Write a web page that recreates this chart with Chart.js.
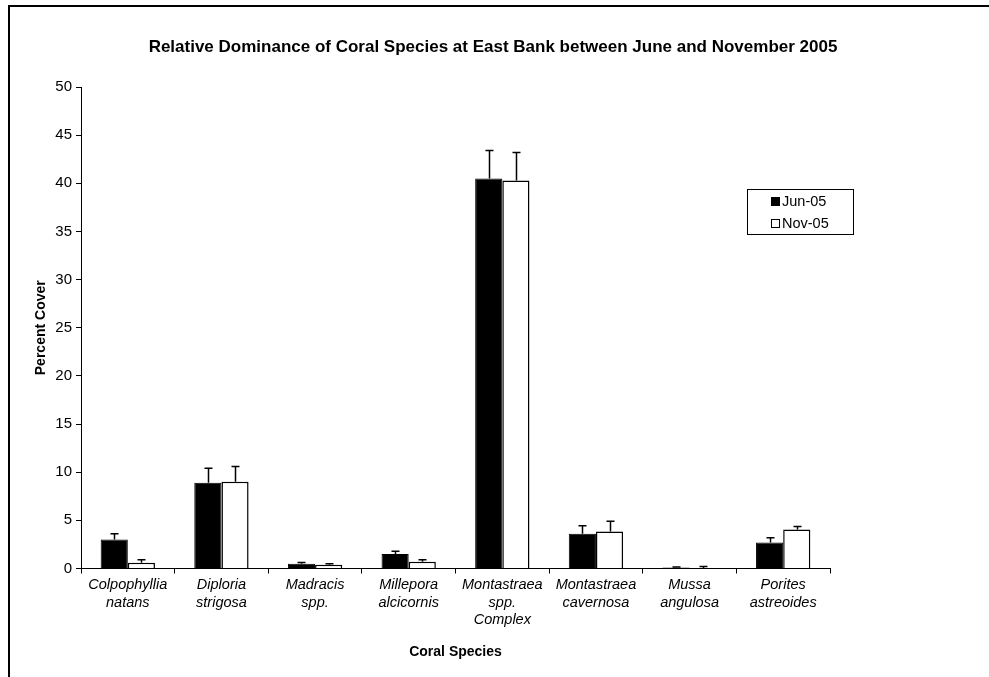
<!DOCTYPE html>
<html>
<head>
<meta charset="utf-8">
<script src="https://cdn.jsdelivr.net/npm/chart.js@4"></script>
<style>
  html, body { margin: 0; padding: 0; background: #fff; }
  #wrap { position: relative; width: 989px; height: 677px; }
</style>
</head>
<body>
<div id="wrap"><canvas id="c" width="989" height="677"></canvas></div>
<script>
// Species groups on the x axis (one line per array entry)
const species = [
  ['Colpophyllia', 'natans'],
  ['Diploria', 'strigosa'],
  ['Madracis', 'spp.'],
  ['Millepora', 'alcicornis'],
  ['Montastraea', 'spp.', 'Complex'],
  ['Montastraea', 'cavernosa'],
  ['Mussa', 'angulosa'],
  ['Porites', 'astreoides']
];
const surveyLabels = ['Jun-05', 'Nov-05'];

// Mean percent cover per survey
const coverJun = [3.0, 8.9, 0.5, 1.5, 40.5, 3.6, 0.1, 2.7];
const coverNov = [0.6, 9.0, 0.4, 0.7, 40.3, 3.85, 0.06, 4.05];

// Standard error (drawn as upper error bars)
const errJun = [0.6, 1.5, 0.12, 0.3, 2.9, 0.85, 0.05, 0.5];
const errNov = [0.3, 1.6, 0.1, 0.2, 2.9, 1.05, 0.14, 0.3];

// y axis range
const yMin = 0, yMax = 50, yStep = 5;

const FONT = '"Liberation Sans", Arial, sans-serif';

// Outer frame (top and left edges) and chart title
const framePlugin = {
  id: 'frame',
  beforeDraw(chart) {
    const ctx = chart.ctx;
    ctx.save();
    ctx.fillStyle = '#fff';
    ctx.fillRect(0, 0, chart.width, chart.height);
    ctx.fillStyle = '#000';
    ctx.fillRect(8, 5, chart.width - 8, 2);
    ctx.fillRect(8, 5, 2, chart.height - 5);
    ctx.restore();
  },
  afterDraw(chart) {
    const ctx = chart.ctx;
    ctx.save();
    ctx.fillStyle = '#000';
    ctx.font = 'bold 17px ' + FONT;
    ctx.textAlign = 'center';
    ctx.textBaseline = 'middle';
    ctx.fillText('Relative Dominance of Coral Species at East Bank between June and November 2005', 493, 47);
    ctx.restore();
  }
};

// Upper error bars with caps
const errorBarPlugin = {
  id: 'errorBars',
  afterDatasetsDraw(chart) {
    const ctx = chart.ctx;
    const y = chart.scales.y;
    const errs = [errJun, errNov];
    ctx.save();
    ctx.strokeStyle = '#000';
    ctx.lineWidth = 1.5;
    chart.data.datasets.forEach((ds, di) => {
      const meta = chart.getDatasetMeta(di);
      meta.data.forEach((bar, i) => {
        const top = y.getPixelForValue(ds.data[i] + errs[di][i]);
        const base = y.getPixelForValue(ds.data[i]);
        const x = Math.round(bar.x) + 0.5;
        ctx.beginPath();
        ctx.moveTo(x, base);
        ctx.lineTo(x, top);
        ctx.moveTo(x - 4, top);
        ctx.lineTo(x + 4, top);
        ctx.stroke();
      });
    });
    ctx.restore();
  }
};

// Boxed legend at upper right of the plot
const legendBoxPlugin = {
  id: 'legendBox',
  afterDraw(chart) {
    const ctx = chart.ctx;
    const bx = 747, by = 189, bw = 106, bh = 45;
    ctx.save();
    ctx.fillStyle = '#fff';
    ctx.fillRect(bx, by, bw, bh);
    ctx.strokeStyle = '#000';
    ctx.lineWidth = 1;
    ctx.strokeRect(bx + 0.5, by + 0.5, bw, bh);
    ctx.font = '14.5px ' + FONT;
    ctx.textBaseline = 'middle';
    ctx.textAlign = 'left';
    chart.data.datasets.forEach((ds, i) => {
      const cy = 201.5 + i * 22;
      ctx.fillStyle = ds.backgroundColor;
      ctx.fillRect(771, cy - 4.5, 9, 9);
      ctx.strokeStyle = '#000';
      ctx.strokeRect(771.5, cy - 4, 8, 8);
      ctx.fillStyle = '#000';
      ctx.fillText(ds.label, 782, cy + 0.5);
    });
    ctx.restore();
  }
};

new Chart(document.getElementById('c'), {
  type: 'bar',
  data: {
    labels: species,
    datasets: [
      { label: surveyLabels[0], data: coverJun, backgroundColor: '#000', borderColor: '#000', borderWidth: 1 },
      { label: surveyLabels[1], data: coverNov, backgroundColor: '#fff', borderColor: '#000', borderWidth: 1.5 }
    ]
  },
  options: {
    responsive: false,
    animation: false,
    devicePixelRatio: 1,
    layout: { padding: { left: 0, right: 159, top: 87, bottom: 0 } },
    categoryPercentage: 0.58,
    barPercentage: 1.0,
    plugins: {
      legend: { display: false },
      title: { display: false },
      tooltip: { enabled: false }
    },
    scales: {
      x: {
        afterFit(scale) { scale.height = 108.5; },
        grid: { display: true, drawOnChartArea: false, tickLength: 5, color: '#000', offset: true },
        border: { display: true, color: '#000', width: 1 },
        ticks: { color: '#000', font: { family: FONT, size: 14.5, style: 'italic', lineHeight: 1.2 }, padding: 3, maxRotation: 0, autoSkip: false },
        title: { display: true, text: 'Coral Species', color: '#000', font: { family: FONT, size: 14, weight: 'bold' }, padding: { top: 0, bottom: 16 } }
      },
      y: {
        min: yMin, max: yMax,
        afterFit(scale) { scale.width = 81; },
        grid: { display: true, drawOnChartArea: false, tickLength: 5, color: '#000' },
        border: { display: true, color: '#000', width: 1 },
        ticks: { stepSize: yStep, color: '#000', font: { family: FONT, size: 15 }, padding: 4 },
        title: { display: true, text: 'Percent Cover', color: '#000', font: { family: FONT, size: 14, weight: 'bold' }, padding: { top: 33, bottom: 0 } }
      }
    }
  },
  plugins: [framePlugin, errorBarPlugin, legendBoxPlugin]
});
</script>
</body>
</html>
